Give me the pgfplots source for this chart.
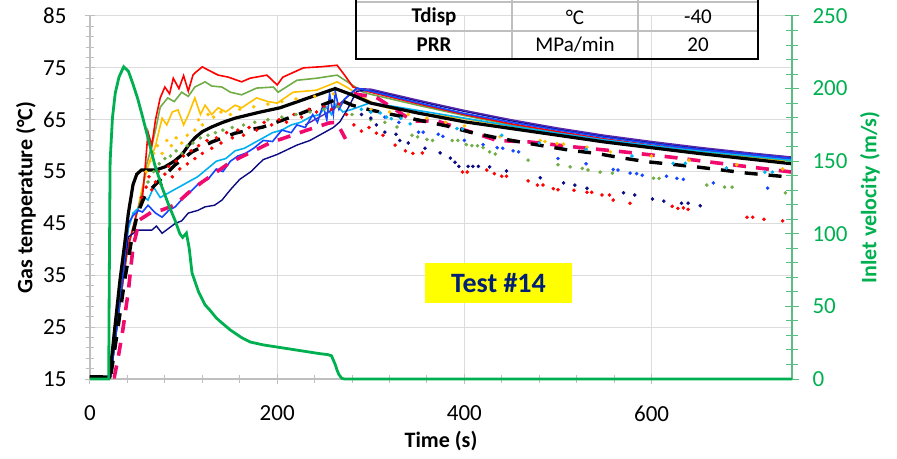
\documentclass[border=0pt]{standalone}
\usepackage{fontspec}
\setmainfont{Carlito}
\usepackage{pgfplots}
\pgfplotsset{compat=1.18}

\definecolor{velgreen}{RGB}{0,176,80}
\definecolor{velaxis}{RGB}{90,190,130}
\definecolor{axisgray}{RGB}{191,191,191}
\definecolor{gridgray}{RGB}{220,220,220}
\definecolor{tred}{RGB}{255,0,0}
\definecolor{tolive}{RGB}{112,173,71}
\definecolor{tyellow}{RGB}{255,192,0}
\definecolor{tblue}{RGB}{20,70,255}
\definecolor{tcyan}{RGB}{0,176,240}
\definecolor{tnavy}{RGB}{10,10,130}
\definecolor{tpurple}{RGB}{90,40,170}
\definecolor{tmagenta}{RGB}{240,10,110}
\definecolor{testyellow}{RGB}{255,255,0}
\definecolor{testnavy}{RGB}{0,32,120}

\begin{document}
\begin{tikzpicture}
\pgfplotsset{
  base/.style={
    scale only axis, width=702pt, height=363pt,
    at={(0,0)}, anchor=south west,
    xmin=0, xmax=750,
    /pgf/number format/assume math mode=true,
    tick label style={font=\fontsize{23}{27}\selectfont},
    label style={font=\fontsize{22}{26}\selectfont\bfseries},
    tick align=center,
    major tick length=10pt, minor tick length=8pt,
  }
}
% temperature axis
\begin{axis}[base,
    axis y line*=left, axis x line*=bottom,
    ymin=15, ymax=85,
    ytick={15,25,...,85}, minor y tick num=4,
    xtick={0,200,400,600}, minor x tick num=4,
    grid=major, major grid style={gridgray, line width=1pt},
    axis line style={-, axisgray, line width=1.2pt},
    every tick/.style={axisgray, line width=1pt},
    ticklabel style={black},
    yticklabel style={xshift=-15pt},
    xticklabel style={yshift=-18pt},
    xlabel={Time (s)}, ylabel={Gas temperature (°C)},
    xlabel style={at={(axis description cs:0.5,0)}, anchor=center, yshift=-62pt},
    ylabel style={at={(axis description cs:0,0.5)}, anchor=center, yshift=64pt},
  ]
% dotted series
\addplot[only marks, mark=*, mark size=1.6pt, tyellow] coordinates {
 (60,55)(64,57)(68,58.5)(72,60)(77,58.5)(82,61)(87,60)(92,61.5)(98,60.5)(104,62)(112,63)(116,65)(120,64)(126,66)(132,65.5)
 (140,66.5)(150,66)(160,67)(175,67.5)(190,68)(205,68.5)(220,69)(240,69.5)(260,70)
 (300,67)(320,66.5)(340,66)(360,65.3)(380,64.5)(400,63.8)(438,61.7)(481,61)(486,60.8)(499,60.4)(506,60.3)(531,59.7)(556,58.8)(600,58)(640,57.2)(691,56.3)(740,55.5)};
\addplot[only marks, mark=*, mark size=1.6pt, tred] coordinates {
 (55,50)(60,52)(63,54)(66,51.5)(70,53)(73,55)(76,52.5)(80,54.5)(84,56)(88,54)(92,57)(96,55.5)(100,58)(104,56.5)(108,59)(112,57.5)
 (116,60)(120,58.5)(125,61)(130,59.5)(135,61.5)(140,60.5)(146,62.5)(152,61.5)(158,63)(164,62)(170,63.5)(178,63)(186,64.5)(194,64)
 (202,65)(210,64.5)(218,66)(226,65.5)(234,67)(242,66.5)(250,67.5)(258,67)(266,68)(274,66)(282,64)(290,62.8)(298,63.5)
 (306,62.4)(313,62)(326,60.1)(337,59)(345,58.5)(355,58.6)(398,54.9)(403,54.9)(424,55.3)(432,54.6)(440,54.1)(445,54.1)
 (468,53.2)(478,52.4)(484,52.4)(495,51.7)(500,51.5)(517,51.4)(531,51)(536,51)(547,50.5)(555,50.5)(559,49.5)(577,48.9)
 (622,48.3)(628,47.9)(634,48)(639,47.7)(702,46.2)(708,46.2)(720,45.8)(740,45.5)};
\addplot[only marks, mark=*, mark size=1.6pt, tolive] coordinates {
 (62,53)(68,55)(74,56.5)(80,57.5)(86,58)(92,59)(98,58.5)(104,60)(110,60.5)(118,61.5)(126,62)(134,62.5)(142,63)(152,63.5)(164,64)(176,64.5)
 (190,65)(205,65.5)(220,66)(235,66.5)(250,67)(265,67.5)(280,66)(300,65)(315,64.5)
 (328,63.6)(344,62)(350,61.7)(360,61.2)(366,61)(387,61)(393,61)(402,60.2)(408,60)(414,60)(420,59.6)(427,58.8)(433,58.4)
 (468,57.2)(500,56.3)(513,55.9)(526,55.6)(532,55.3)(545,54.9)(558,54.7)(602,53.7)(608,53.7)(659,52.4)(678,52)(686,52)(743,50.9)};
\addplot[only marks, mark=*, mark size=1.6pt, tnavy] coordinates {
 (290,66)(300,65.3)(306,64)(315,62.6)(327,62.2)(331,61)(340,60.5)(358,59.5)(374,58.6)(385,57.6)(390,56.8)(394,56)(404,56)(409,56)(415,56)
 (427,55.9)(445,55.1)(481,53.8)(506,52.8)(518,52.4)(531,51.8)(570,50.9)(582,50.5)(601,49.7)(613,49.3)(632,48.9)(639,48.9)(652,48.4)};
\addplot[only marks, mark=*, mark size=1.6pt, tblue] coordinates {
 (300,66.5)(315,65.5)(330,64.5)(351,62.6)(356,62.6)(372,62.2)(377,61.8)(400,61)(420,60.2)(435,59.6)(441,59.5)(452,59)(458,58.8)
 (500,57.5)(530,56.5)(559,55.4)(564,55.3)(577,54.7)(584,54.6)(590,54.3)(616,54.1)(627,53.7)(634,53.5)(666,52.8)(724,51.8)};
\addplot[only marks, mark=*, mark size=1.6pt, tcyan] coordinates {
 (290,67)(300,66.5)(310,66.3)(317,65.5)(322,65.2)(332,65.3)(342,64.2)(392,63.3)(398,63.2)(440,62)(480,60.5)(530,59.3)(579,58)(623,56.6)(636,56.6)(680,55.7)(721,54.9)(729,54.9)};
% solid coloured lines
\addplot[tyellow, line width=1.6pt] coordinates {
 (0,15.4)(22,15.4)(30,27)(40,40)(50,47)(56,52)(62,56)(70,60)(77,65.3)(82,64)(88,66.5)(94,66.9)(100,64)(105,65.9)(112,69.2)(118,66)
 (123,67.8)(130,66)(137,67.3)(145,66.5)(155,67.8)(162,67.3)(178,69.2)(190,68.5)(200,68.2)(217,70.3)(242,70.7)(264,72.3)(276,71.1)
 (292,69.2)(307,67.8)(320,67.2)(350,66.3)(400,65.2)(450,63.6)(500,62.2)(550,60.9)(600,59.7)(650,58.7)(700,57.8)(750,56.9)};
\addplot[tolive, line width=1.6pt] coordinates {
 (22,15.4)(30,27)(40,40)(50,47)(56,51)(60,56)(66,60)(70,63)(75,67.4)(83,69.2)(90,68.5)(98,70.3)(105,69.5)(112,71.3)(123,72.3)
 (130,71.5)(141,71.3)(150,70.3)(162,69.8)(178,71.1)(196,71.3)(201,70.3)(221,72.6)(242,73)(264,73.6)(275,72.3)(292,70.3)
 (300,69.9)(350,67.8)(400,65.8)(450,64)(500,62.5)(550,61.1)(600,59.9)(650,58.9)(700,58)(750,57.1)};
\addplot[tred, line width=1.6pt] coordinates {
 (22,15.4)(30,27)(40,40)(50,47)(56,50)(59,56)(62,62.6)(66,60)(70,65)(75,69.2)(80,71.3)(85,70)(89,73)(95,71)(100,73.5)(105,70.5)
 (110,73.6)(112,74)(120,75.2)(126,74.6)(137,73.6)(148,73.2)(162,72.3)(171,73)(189,73.6)(200,71.7)(206,73.2)(228,75)(246,75.2)
 (264,75.5)(272,73.6)(281,71.3)(292,70.7)(300,70.3)(350,68.1)(400,66)(450,64.2)(500,62.7)(550,61.3)(600,60.1)(650,59.1)(700,58.2)(750,57.3)};
\addplot[tcyan, line width=1.6pt] coordinates {
 (22,15.4)(28,24)(34,33)(41,44)(46,47)(52,48)(58,50)(62,49.5)(68,52)(75,50)(85,51)(95,52)(105,53)(115,54)(125,55.5)(135,57)
 (145,57.5)(155,59)(165,59.5)(175,60.5)(185,61.5)(195,62.5)(205,63)(215,64)(225,64.5)(235,65.5)(245,66)(252,67.5)(258,66)
 (263,68)(270,66.5)(280,67)(300,68.3)(350,66.8)(400,65.3)(450,63.8)(500,62.4)(550,61.1)(600,60)(650,59)(700,58.1)(750,57.2)};
\addplot[tnavy, line width=1.4pt] coordinates {
 (0,15.4)(22,15.4)(30,27)(36,36)(41,42.4)(51,43.7)(66,43.7)(71,44.5)(77,43.1)(91,45)(98,45.5)(105,47)(115,47.5)(123,48.2)
 (133,48.5)(141,49.5)(150,51.5)(160,53.5)(172,55)(185,57.3)(200,58.3)(221,60.1)(235,61)(249,62.4)(260,63.5)(267,64.6)
 (275,67)(285,70.5)(300,70.7)(350,68.6)(400,66.6)(450,64.8)(500,63.2)(550,61.8)(600,60.6)(650,59.5)(700,58.6)(750,57.7)};
\addplot[tpurple, line width=1.4pt] coordinates {
 (230,64)(260,67)(285,71)(300,70.9)(350,68.8)(400,66.8)(450,65)(500,63.4)(550,62)(600,60.8)(650,59.7)(700,58.7)(750,57.8)};
\addplot[tblue, line width=1.6pt] coordinates {
 (22,15.4)(28,24)(34,33)(41,45)(46,46.5)(52,47.5)(56,47.2)(62,48.5)(70,47)(77,46.2)(84,47.5)(91,48.2)(100,50)(109,51.4)
 (118,53)(126,53.5)(135,55.5)(142,55)(150,57)(158,58)(166,58.5)(175,59.5)(185,61)(195,60.8)(205,63)(215,62.5)(221,64)
 (230,63.5)(238,66)(243,64.5)(249,67.8)(253,65)(256,70)(260,66)(262,70.5)(266,67)(272,69)(285,71.1)(300,70.5)(350,68.3)
 (400,66.2)(450,64.5)(500,63)(550,61.6)(600,60.4)(650,59.3)(700,58.4)(750,57.5)};
% dashed magenta
\addplot[tmagenta, line width=3.6pt, dash pattern=on 13pt off 10pt] coordinates {
 (0,15.4)(26,15.4)(30,19)(35,24.4)(41,32)(46,40.5)(53,45.7)(66,47.2)(77,47.6)(91,48.6)(105,50.9)(120,53)(150,56.8)
 (192,60.5)(232,63)(256,64.4)(263,64.5)(268,63)(273,61.3)};
\addplot[tmagenta, line width=3.6pt, dash pattern=on 13pt off 10pt] coordinates {
 (282,70)(306,69.3)(330,66.5)(345,64.7)(370,64.8)(390,63.6)(435,61)(470,60.7)(520,59.7)(570,58.8)(620,57.8)(673,56.6)(750,54.9)};
% black dashed
\addplot[black, line width=3.4pt, dash pattern=on 13pt off 11pt] coordinates {
 (0,15.4)(22,15.4)(30,25)(37,34)(45,42.4)(51,47)(59,50.5)(66,51.8)(77,53.8)(91,56.3)(109,58.8)(130,60.7)(155,62.4)(185,63.6)
 (221,65.9)(256,68.4)(265,69)(280,67.8)(299,66.9)(331,65.7)(381,63.8)(406,62.6)(435,61.5)(463,60.6)(513,59.1)(541,58.5)
 (566,57.7)(595,56.9)(648,55.9)(702,54.7)(750,53.9)};
% black solid
\addplot[black, line width=3.2pt] coordinates {
 (0,15.4)(21,15.4)(26,24)(32,34)(37,41)(41,47)(46,52.5)(50,54.5)(55,55.3)(70,55.3)(80,55.9)(90,57)(98,58.2)(105,60)(112,61.5)
 (120,62.7)(130,63.6)(142,64.5)(155,65.3)(180,66.4)(203,67.3)(230,69)(262,71)(280,69.8)(300,68.2)(350,66.3)(400,64.6)
 (450,63.3)(500,62)(550,60.7)(600,59.6)(650,58.5)(700,57.5)(750,56.5)};
\end{axis}
% velocity axis
\begin{axis}[base,
    axis y line*=right, axis x line=none,
    ymin=0, ymax=250, clip=false,
    ytick={0,50,...,250}, minor y tick num=4,
    axis line style={-, velaxis, line width=1.2pt},
    every tick/.style={velaxis, line width=1pt},
    major tick length=14pt, minor tick length=12pt,
    ticklabel style={velgreen},
    yticklabel style={xshift=10pt},
    ylabel={Inlet velocity (m/s)},
    ylabel style={velgreen, at={(axis description cs:1,0.5)}, anchor=center, rotate=0, yshift=-78pt},
  ]
\addplot[velgreen, line width=2.8pt] coordinates {
 (0,0)(20,0)(20.5,60)(21.5,150)(24,180)(27,197)(31,208)(36,215)(41,212)(46,203)(51,193)(56,181)(62,166)(69,148)(77,132)
 (84,120)(91,109)(96,100)(99,97.5)(103,100.5)(106,90)(109,73)(116,60)(123,51)(128,47.5)(135,42)(141,38.6)(150,33.7)
 (162,28.5)(171,25.5)(185,23.5)(200,22)(215,20.5)(232,18.8)(245,17.5)(254,16.8)(258,16)(262,10)(264,6)(266,3)(269,0.5)(272,0)(750,0)};
\end{axis}
% parameter table (cut off at top)
\begin{scope}[overlay]
\draw[axisgray, line width=1.2pt] (266pt,377pt) -- (668pt,377pt);
\draw[axisgray, line width=1.2pt] (266pt,348pt) -- (668pt,348pt);
\draw[axisgray, line width=1.2pt] (422pt,320pt) -- (422pt,400pt);
\draw[axisgray, line width=1.2pt] (548pt,320pt) -- (548pt,400pt);
\draw[black, line width=2.8pt] (266pt,400pt) -- (266pt,320pt) -- (668pt,320pt) -- (668pt,400pt);
\end{scope}
\node[font=\fontsize{21}{25}\selectfont\bfseries] at (344pt,362pt) {Tdisp};
\node[font=\fontsize{21}{25}\selectfont] at (485pt,362pt) {°C};
\node[font=\fontsize{21}{25}\selectfont] at (608pt,362pt) {-40};
\node[font=\fontsize{21}{25}\selectfont\bfseries] at (344pt,334pt) {PRR};
\node[font=\fontsize{21}{25}\selectfont] at (485pt,334pt) {MPa/min};
\node[font=\fontsize{21}{25}\selectfont] at (608pt,334pt) {20};
% test label
\node[fill=testyellow, minimum width=147pt, minimum height=40pt, inner sep=0pt,
      font=\fontsize{28}{32}\selectfont\bfseries, text=testnavy] at (408.5pt,96pt) {Test \#14};
\pgfresetboundingbox
\useasboundingbox (-90pt,-79pt) rectangle (807pt,379pt);
\end{tikzpicture}
\end{document}
